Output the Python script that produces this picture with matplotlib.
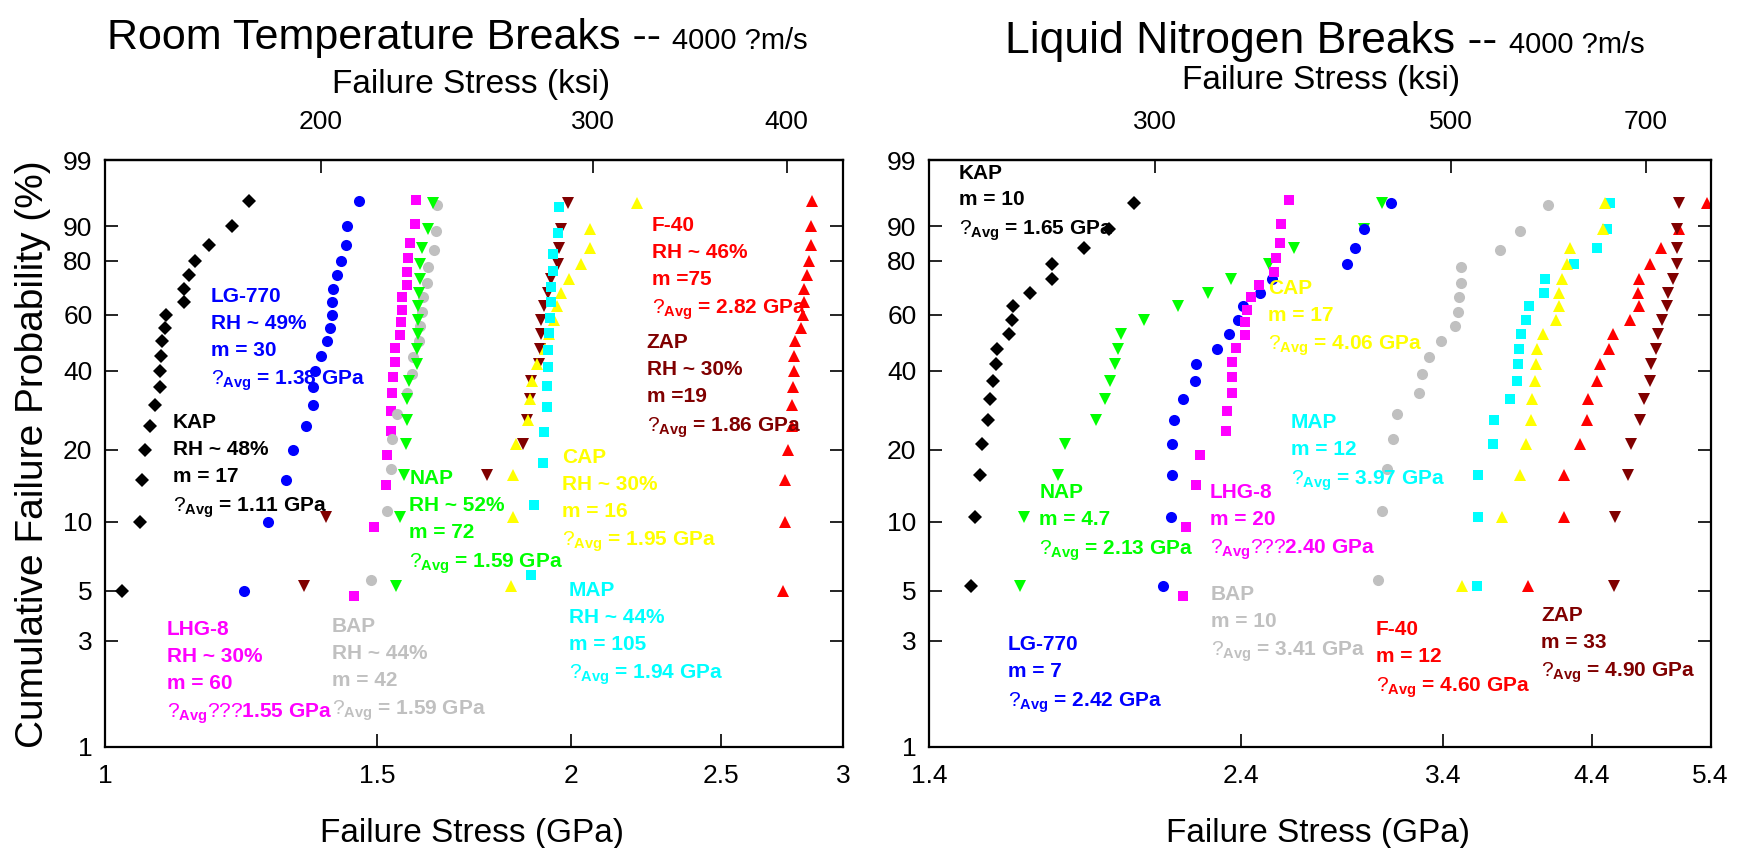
import numpy as np
import matplotlib
matplotlib.use('Agg')
import matplotlib.pyplot as plt
from matplotlib.ticker import NullLocator

plt.rcParams['font.family'] = ['Liberation Sans', 'DejaVu Sans']
plt.rcParams['mathtext.fontset'] = 'custom'
plt.rcParams['mathtext.rm'] = 'Liberation Sans'
plt.rcParams['mathtext.bf'] = 'Liberation Sans:bold'

# plotting positions (cumulative failure probability, %) for n specimens
p16 = [5.88, 11.76, 17.65, 23.53, 29.41, 35.29, 41.18, 47.06, 52.94, 58.82, 64.71,
       70.59, 76.47, 82.35, 88.24, 94.12]
p17 = [5.56, 11.11, 16.67, 22.22, 27.78, 33.33, 38.89, 44.44, 50.00, 55.56, 61.11,
       66.67, 72.22, 77.78, 83.33, 88.89, 94.44]
p18 = [5.26, 10.53, 15.79, 21.05, 26.32, 31.58, 36.84, 42.11, 47.37, 52.63, 57.89,
       63.16, 68.42, 73.68, 78.95, 84.21, 89.47, 94.74]
p19 = [5, 10, 15, 20, 25, 30, 35, 40, 45, 50, 55, 60, 65, 70, 75, 80, 85, 90, 95]
p20 = [4.76, 9.52, 14.29, 19.05, 23.81, 28.57, 33.33, 38.10, 42.86, 47.62, 52.38,
       57.14, 61.90, 66.67, 71.43, 76.19, 80.95, 85.71, 90.48, 95.24]

# room temperature failure stress (GPa)
rt_kap = [1.026, 1.053, 1.057, 1.062, 1.070, 1.078, 1.086, 1.086, 1.087, 1.088, 1.093,
          1.095, 1.125, 1.125, 1.133, 1.144, 1.168, 1.209, 1.239]
rt_lg770 = [1.229, 1.275, 1.310, 1.322, 1.348, 1.362, 1.362, 1.366, 1.379, 1.392, 1.397,
            1.401, 1.403, 1.405, 1.413, 1.421, 1.432, 1.434, 1.460]
rt_lhg8 = [1.449, 1.492, 1.519, 1.522, 1.531, 1.531, 1.533, 1.536, 1.541, 1.541, 1.551,
           1.553, 1.555, 1.555, 1.567, 1.568, 1.571, 1.575, 1.586, 1.588]
rt_nap = [1.542, 1.551, 1.561, 1.566, 1.568, 1.568, 1.573, 1.590, 1.592, 1.593, 1.593,
          1.594, 1.597, 1.598, 1.598, 1.604, 1.618, 1.629]
rt_bap = [1.486, 1.522, 1.531, 1.533, 1.544, 1.568, 1.580, 1.582, 1.596, 1.598, 1.602,
          1.605, 1.614, 1.618, 1.632, 1.637, 1.640]
rt_zap = [1.345, 1.390, 1.765, 1.864, 1.874, 1.882, 1.885, 1.909, 1.912, 1.914, 1.915,
          1.922, 1.935, 1.941, 1.964, 1.965, 1.973, 1.993]
rt_cap = [1.830, 1.835, 1.836, 1.843, 1.878, 1.883, 1.887, 1.901, 1.926, 1.937, 1.950,
          1.960, 1.973, 1.996, 2.032, 2.057, 2.060, 2.209]
rt_map = [1.885, 1.895, 1.918, 1.921, 1.930, 1.932, 1.933, 1.934, 1.937, 1.939, 1.942,
          1.942, 1.949, 1.949, 1.962, 1.965]
rt_f40 = [2.742, 2.750, 2.752, 2.765, 2.781, 2.779, 2.783, 2.789, 2.791, 2.795, 2.817,
          2.825, 2.830, 2.832, 2.845, 2.853, 2.860, 2.860, 2.866]

# liquid nitrogen failure stress (GPa)
ln_kap = [1.505, 1.516, 1.528, 1.534, 1.549, 1.556, 1.563, 1.572, 1.575, 1.608, 1.616,
          1.618, 1.667, 1.732, 1.732, 1.829, 1.909, 1.993]
ln_nap = [1.638, 1.650, 1.750, 1.770, 1.869, 1.896, 1.913, 1.929, 1.942, 1.950, 2.030,
          2.154, 2.267, 2.360, 2.520, 2.630, 2.968, 3.060]
ln_lg770 = [2.096, 2.125, 2.129, 2.129, 2.138, 2.170, 2.215, 2.220, 2.301, 2.352, 2.389,
            2.409, 2.480, 2.530, 2.884, 2.922, 2.965, 3.108]
ln_lhg8 = [2.172, 2.182, 2.220, 2.236, 2.337, 2.341, 2.361, 2.361, 2.361, 2.379, 2.416,
           2.416, 2.425, 2.442, 2.477, 2.541, 2.548, 2.567, 2.570, 2.609]
ln_bap = [3.039, 3.060, 3.088, 3.122, 3.142, 3.263, 3.278, 3.322, 3.388, 3.471, 3.489,
          3.495, 3.509, 3.509, 3.756, 3.886, 4.075]
ln_map = [3.605, 3.611, 3.611, 3.711, 3.717, 3.817, 3.868, 3.872, 3.877, 3.890, 3.928,
          3.944, 4.052, 4.059, 4.263, 4.436, 4.515, 4.536]
ln_cap = [3.513, 3.769, 3.888, 3.924, 3.960, 3.969, 3.985, 3.994, 3.999, 4.045, 4.134,
          4.154, 4.159, 4.175, 4.212, 4.236, 4.487, 4.500]
ln_f40 = [3.940, 4.192, 4.192, 4.310, 4.365, 4.372, 4.438, 4.461, 4.531, 4.560, 4.701,
          4.767, 4.764, 4.775, 4.861, 4.954, 5.114, 5.370]
ln_zap = [4.568, 4.581, 4.682, 4.704, 4.783, 4.816, 4.861, 4.872, 4.917, 4.926, 4.965,
          5.011, 5.020, 5.058, 5.093, 5.093, 5.093, 5.114]

y_ticks = [1, 3, 5, 10, 20, 40, 60, 80, 90, 99]
rt_xticks = [1, 1.5, 2, 2.5, 3]
rt_xlabels = ['1', '1.5', '2', '2.5', '3']
ln_xticks = [1.4, 2.4, 3.4, 4.4, 5.4]
ln_xlabels = ['1.4', '2.4', '3.4', '4.4', '5.4']
rt_ksi = [200, 300, 400]
ln_ksi = [300, 500, 700]

GPA_PER_KSI = 0.006895

# annotation texts: (lines, avg line)
rt_notes = {
    'LG-770': (['LG-770', 'RH ~ 49%', 'm = 30'], ' = 1.38 GPa'),
    'KAP': (['KAP', 'RH ~ 48%', 'm = 17'], ' = 1.11 GPa'),
    'LHG-8': (['LHG-8', 'RH ~ 30%', 'm = 60'], '???1.55 GPa'),
    'BAP': (['BAP', 'RH ~ 44%', 'm = 42'], ' = 1.59 GPa'),
    'NAP': (['NAP', 'RH ~ 52%', 'm = 72'], ' = 1.59 GPa'),
    'F-40': (['F-40', 'RH ~ 46%', 'm =75'], ' = 2.82 GPa'),
    'ZAP': (['ZAP', 'RH ~ 30%', 'm =19'], ' = 1.86 GPa'),
    'CAP': (['CAP', 'RH ~ 30%', 'm = 16'], ' = 1.95 GPa'),
    'MAP': (['MAP', 'RH ~ 44%', 'm = 105'], ' = 1.94 GPa'),
}
ln_notes = {
    'KAP': (['KAP', 'm = 10'], ' = 1.65 GPa'),
    'NAP': (['NAP', 'm = 4.7'], ' = 2.13 GPa'),
    'LHG-8': (['LHG-8', 'm = 20'], '???2.40 GPa'),
    'CAP': (['CAP', 'm = 17'], ' = 4.06 GPa'),
    'MAP': (['MAP', 'm = 12'], ' = 3.97 GPa'),
    'BAP': (['BAP', 'm = 10'], ' = 3.41 GPa'),
    'LG-770': (['LG-770', 'm = 7'], ' = 2.42 GPa'),
    'F-40': (['F-40', 'm = 12'], ' = 4.60 GPa'),
    'ZAP': (['ZAP', 'm = 33'], ' = 4.90 GPa'),
}

style = {
    'KAP': ('#000000', 'D', 6.8),
    'LG-770': ('#0000FF', 'o', 8.0),
    'LHG-8': ('#FF00FF', 's', 7.2),
    'NAP': ('#00FF00', 'v', 8.4),
    'BAP': ('#C0C0C0', 'o', 8.0),
    'ZAP': ('#800000', 'v', 8.4),
    'CAP': ('#FFFF00', '^', 8.4),
    'MAP': ('#00FFFF', 's', 7.2),
    'F-40': ('#FF0000', '^', 8.4),
}

# note anchor positions in axes fraction (left, top)
rt_pos = {'LG-770': (0.1436, 0.784), 'KAP': (0.0917, 0.5685), 'LHG-8': (0.0836, 0.216),
          'BAP': (0.307, 0.222), 'NAP': (0.4123, 0.473), 'F-40': (0.7408, 0.9046),
          'ZAP': (0.734, 0.7048), 'CAP': (0.6197, 0.51), 'MAP': (0.6287, 0.283)}
ln_pos = {'KAP': (0.0384, 0.994), 'NAP': (0.1411, 0.449), 'LHG-8': (0.3595, 0.450),
          'CAP': (0.4341, 0.797), 'MAP': (0.4627, 0.5685), 'BAP': (0.3608, 0.276),
          'LG-770': (0.1007, 0.190), 'F-40': (0.5718, 0.2158), 'ZAP': (0.7829, 0.240)}


def weibull(p):
    p = np.clip(np.asarray(p, dtype=float), 1e-6, 100 - 1e-6)
    return np.log(-np.log(1 - p / 100.0))


def weibull_inv(w):
    return 100.0 * (1 - np.exp(-np.exp(np.asarray(w, dtype=float))))


def setup_axes(ax, xlim, xticks, xlabels, ksi):
    ax.set_xscale('log')
    ax.set_yscale('function', functions=(weibull, weibull_inv))
    ax.set_xlim(*xlim)
    ax.set_ylim(1, 99)
    ax.set_xticks(xticks)
    ax.set_xticklabels(xlabels)
    ax.xaxis.set_minor_locator(NullLocator())
    ax.set_yticks(y_ticks)
    ax.set_yticklabels([str(t) for t in y_ticks])
    ax.yaxis.set_minor_locator(NullLocator())
    ax.tick_params(axis='both', direction='in', length=9.5, width=1.2, labelsize=19)
    ax.tick_params(axis='y', right=True, pad=9)
    ax.tick_params(axis='x', pad=12)
    for s in ax.spines.values():
        s.set_linewidth(1.6)
    sec = ax.secondary_xaxis('top', functions=(lambda g: np.asarray(g) / GPA_PER_KSI,
                                               lambda k: np.asarray(k) * GPA_PER_KSI))
    sec.set_xticks(ksi)
    sec.set_xticklabels([str(k) for k in ksi])
    sec.xaxis.set_minor_locator(NullLocator())
    sec.tick_params(axis='x', direction='in', length=9.5, width=1.2, labelsize=19, pad=19)
    sec.spines['top'].set_linewidth(1.6)


def draw(ax, series, notes, pos):
    for name, vals, probs in series:
        color, marker, ms = style[name]
        ax.plot(vals, probs, ls='none', marker=marker, ms=ms, color=color, mew=0)
    for name, (lines, avg) in notes.items():
        color = style[name][0]
        if avg.startswith('???'):
            last = r'$\mathrm{?}_{\mathbf{Avg}}\mathrm{???}$' + avg[3:]
        else:
            last = r'$\mathrm{?}_{\mathbf{Avg}}$' + avg
        txt = '\n'.join(lines + [last])
        ax.text(pos[name][0], pos[name][1], txt, transform=ax.transAxes, color=color,
                fontsize=15, fontweight='bold', ha='left', va='top', linespacing=1.53)


fig = plt.figure(figsize=(17.47, 8.48), dpi=100)
ax1 = fig.add_axes([105 / 1747, 101 / 848, 738 / 1747, 587 / 848])
ax2 = fig.add_axes([929 / 1747, 101 / 848, 781.7 / 1747, 587 / 848])

setup_axes(ax1, (1, 3), rt_xticks, rt_xlabels, rt_ksi)
setup_axes(ax2, (1.4, 5.4), ln_xticks, ln_xlabels, ln_ksi)

rt_series = [('KAP', rt_kap, p19), ('LG-770', rt_lg770, p19), ('LHG-8', rt_lhg8, p20),
             ('BAP', rt_bap, p17), ('NAP', rt_nap, p18), ('ZAP', rt_zap, p18),
             ('CAP', rt_cap, p18), ('MAP', rt_map, p16), ('F-40', rt_f40, p19)]
ln_series = [('KAP', ln_kap, p18), ('NAP', ln_nap, p18), ('LG-770', ln_lg770, p18),
             ('LHG-8', ln_lhg8, p20), ('BAP', ln_bap, p17), ('MAP', ln_map, p18),
             ('CAP', ln_cap, p18), ('F-40', ln_f40, p18), ('ZAP', ln_zap, p18)]
draw(ax1, rt_series, rt_notes, rt_pos)
draw(ax2, ln_series, ln_notes, ln_pos)

W, H = 1747.0, 848.0
# titles
fig.text(661 / W, 1 - 49 / H, 'Room Temperature Breaks --', fontsize=31,
         ha='right', va='baseline')
fig.text(672 / W, 1 - 49 / H, '4000 ?m/s', fontsize=21, ha='left', va='baseline')
fig.text(1497 / W, 1 - 53 / H, 'Liquid Nitrogen Breaks --', fontsize=32,
         ha='right', va='baseline')
fig.text(1509 / W, 1 - 53 / H, '4000 ?m/s', fontsize=21, ha='left', va='baseline')
# top axis labels
fig.text(471 / W, 1 - 93 / H, 'Failure Stress (ksi)', fontsize=24,
         ha='center', va='baseline')
fig.text(1321 / W, 1 - 89 / H, 'Failure Stress (ksi)', fontsize=24,
         ha='center', va='baseline')
# bottom axis labels
fig.text(472 / W, 1 - 842 / H, 'Failure Stress (GPa)', fontsize=24,
         ha='center', va='baseline')
fig.text(1318 / W, 1 - 842 / H, 'Failure Stress (GPa)', fontsize=24,
         ha='center', va='baseline')
fig.text(33 / W, 1 - 454 / H, 'Cumulative Failure Probability (%)', fontsize=28,
         rotation=90, ha='center', va='center')

fig.savefig('out.png', dpi=100)
